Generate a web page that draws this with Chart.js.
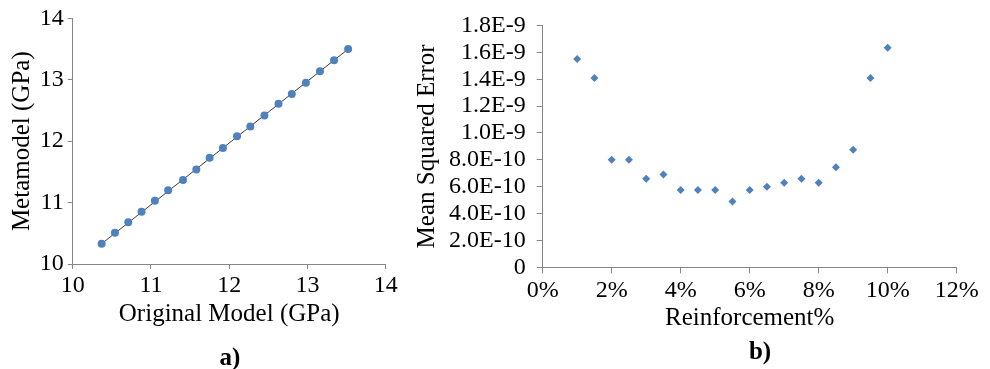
<!DOCTYPE html>
<html>
<head>
<meta charset="utf-8">
<script src="https://cdn.jsdelivr.net/npm/chart.js@4.4.0/dist/chart.umd.min.js"></script>
<style>
  html, body { margin: 0; padding: 0; background: #fff; }
  #wrap { position: relative; width: 990px; height: 369px; overflow: hidden; }
  canvas { position: absolute; top: 0; }
  .lbl { position: absolute; font: bold 25px "Liberation Serif", serif; color: #000; transform: translate(-50%, -50%); }
</style>
</head>
<body>
<div id="wrap">
  <canvas id="chartA" width="400" height="369" style="left:0;width:400px;height:369px"></canvas>
  <canvas id="chartB" width="590" height="369" style="left:400px;width:590px;height:369px"></canvas>
  <div class="lbl" style="left:230px;top:357px">a)</div>
  <div class="lbl" style="left:760px;top:351px">b)</div>
</div>
<script>
// panel a: original model vs metamodel (GPa)
const originalGPa = [10.37, 10.54, 10.71, 10.88, 11.05, 11.22, 11.41, 11.58, 11.75, 11.92,
  12.10, 12.27, 12.45, 12.63, 12.80, 12.98, 13.16, 13.34, 13.52]
const metamodelGPa = [10.33, 10.51, 10.68, 10.85, 11.03, 11.20, 11.37, 11.54, 11.73, 11.89,
  12.08, 12.24, 12.42, 12.61, 12.77, 12.95, 13.14, 13.32, 13.50]
const gpaTicks = [10, 11, 12, 13, 14]

// panel b: reinforcement % vs mean squared error
const reinforcement = [1, 1.5, 2, 2.5, 3, 3.5, 4, 4.5, 5, 5.5, 6, 6.5, 7, 7.5, 8, 8.5, 9, 9.5, 10]
const mse = [1.55e-9, 1.41e-9, 8.0e-10, 8.0e-10, 6.6e-10, 6.9e-10, 5.75e-10, 5.75e-10, 5.75e-10, 4.9e-10,
  5.75e-10, 6.0e-10, 6.3e-10, 6.6e-10, 6.3e-10, 7.45e-10, 8.75e-10, 1.41e-9, 1.635e-9]
const pctTicks = [0, 2, 4, 6, 8, 10, 12]
const mseTicks = [0, 2e-10, 4e-10, 6e-10, 8e-10, 1.0e-9, 1.2e-9, 1.4e-9, 1.6e-9, 1.8e-9]

const SERIF = '"Liberation Serif", "Times New Roman", serif'
const AXIS = '#868686'
const BLUE = '#4F81BD'

function axis(opts) {
  return {
    type: 'linear',
    min: opts.min, max: opts.max,
    afterFit: s => { if (opts.w) s.width = opts.w; if (opts.h) s.height = opts.h },
    afterBuildTicks: s => { s.ticks = opts.ticks.map(v => ({ value: v })) },
    border: { display: true, color: AXIS, width: 1 },
    grid: { display: true, drawOnChartArea: false, drawTicks: true, tickLength: opts.tl, color: AXIS },
    ticks: {
      color: '#000', padding: opts.pad, maxRotation: 0, autoSkip: false,
      font: { family: SERIF, size: 24 },
      callback: opts.fmt
    },
    title: {
      display: true, text: opts.title, color: '#000', padding: 0,
      font: { family: SERIF, size: 25 }
    }
  }
}

const scatterA = originalGPa.map((x, i) => ({ x, y: metamodelGPa[i] }))
const n = originalGPa.length - 1
const fitA = [{ x: originalGPa[0], y: metamodelGPa[0] }, { x: originalGPa[n], y: metamodelGPa[n] }]

new Chart(document.getElementById('chartA'), {
  type: 'scatter',
  data: {
    datasets: [
      { data: fitA, showLine: true, borderColor: '#3a3a3a', borderWidth: 1, pointRadius: 0, order: 2 },
      { data: scatterA, pointStyle: 'circle', pointRadius: 4, backgroundColor: BLUE, borderColor: BLUE, borderWidth: 0, order: 1 }
    ]
  },
  options: {
    responsive: false, animation: false, devicePixelRatio: 1,
    layout: { padding: { left: 7.5, top: 15.7, right: 14.3, bottom: 40 } },
    plugins: { legend: { display: false }, tooltip: { enabled: false } },
    scales: {
      x: axis({ min: 10, max: 14, ticks: gpaTicks, h: 65, tl: 5, pad: 2, title: 'Original Model (GPa)', fmt: v => v }),
      y: axis({ min: 10, max: 14, ticks: gpaTicks, w: 65.2, tl: 5, pad: 4, title: 'Metamodel (GPa)', fmt: v => v })
    }
  }
})

const scatterB = reinforcement.map((x, i) => ({ x, y: mse[i] }))

new Chart(document.getElementById('chartB'), {
  type: 'scatter',
  data: {
    datasets: [
      { data: scatterB, pointStyle: 'rectRot', pointRadius: 4, backgroundColor: BLUE, borderColor: BLUE, borderWidth: 0 }
    ]
  },
  options: {
    responsive: false, animation: false, devicePixelRatio: 1,
    layout: { padding: { left: 12, top: 25.5, right: 33.3, bottom: 36 } },
    plugins: { legend: { display: false }, tooltip: { enabled: false } },
    scales: {
      x: axis({ min: 0, max: 12, ticks: pctTicks, h: 65.7, tl: 6, pad: 3, title: 'Reinforcement%', fmt: v => v + '%' }),
      y: axis({ min: 0, max: 1.8e-9, ticks: mseTicks, w: 130.7, tl: 6, pad: 11, title: 'Mean Squared Error',
        fmt: v => v === 0 ? '0' : v.toExponential(1).replace('e', 'E') })
    }
  }
})
</script>
</body>
</html>
